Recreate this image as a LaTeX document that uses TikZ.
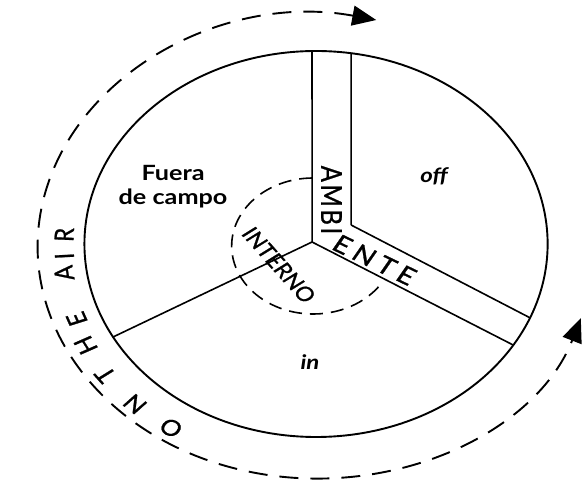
\documentclass[tikz,border=0pt]{standalone}
\usepackage{fontspec}
\setmainfont{Lato}
\newfontfamily\capsfont{Lato}[FakeBold=1]
\usetikzlibrary{arrows.meta,calc}

\tikzset{
  rim/.style={line width=1.9pt},
  spoke/.style={line width=1.6pt},
  airline/.style={line width=1.9pt, dash pattern=on 19pt off 12pt},
  inline/.style={line width=1.6pt, dash pattern=on 13pt off 8pt},
  areatext/.style={inner sep=0pt, align=center, font=\fontsize{21}{24}\selectfont\bfseries},
  striptext/.style={inner sep=0pt, font=\fontsize{24}{24}\selectfont\capsfont},
  ringtext/.style={inner sep=0pt, font=\fontsize{22}{22}\selectfont\capsfont},
}

\begin{document}
\begin{tikzpicture}[x=1pt, y=1pt, xscale=1.2, transform shape]
  \useasboundingbox (0,0) rectangle (485,481);
  \coordinate (c) at (263.3,237);
  \coordinate (co) at (263.3,234.5);
  \coordinate (ci) at (261,235);
  \coordinate (hub) at (260,239);
  \coordinate (corner) at (292.5,256);
  % points on the big circle
  \coordinate (rimL) at ($(c)+(91:193)$);
  \coordinate (rimR) at ($(c)+(81.3:193)$);
  \coordinate (rimEu) at ($(c)+(-22.5:193)$);
  \coordinate (rimEl) at ($(c)+(-31.6:193)$);
  \coordinate (rimF) at ($(c)+(208.8:193)$);

  % big circle and the three walls
  \draw[rim] (c) circle[radius=193];
  \draw[spoke] (hub) -- (rimL);
  \draw[spoke] (corner) -- (rimR);
  \draw[spoke] (corner) -- (rimEu);
  \draw[spoke] (hub) -- (rimEl);
  \draw[spoke] (hub) -- (rimF);

  % inner (interno) ring
  \draw[inline] (ci) ++(90.8:68) arc[start angle=90.8, end angle=325, radius=68];

  % on the air ring
  \draw[airline, {Triangle[length=24pt,width=20pt]}-{Triangle[length=24pt,width=20pt]}]
        (co) ++(77.5:232) arc[start angle=77.5, end angle=342, radius=232];

  % areas
  \node[areatext] (fuera) at (144.2,294) {Fuera\\de campo};
  \node[areatext, font=\fontsize{20}{24}\selectfont\bfseries\itshape] (offscreen) at (361.7,305) {off};
  \node[areatext, font=\fontsize{20}{24}\selectfont\bfseries\itshape] (inside) at (258.3,119) {in};

  % ambiente strip
  \node[striptext, rotate=-90] (ambi) at (276.25,281) {A\kern2.6pt M\kern2.6pt B\kern2.6pt I};
  \node[striptext, rotate=-30] (ente) at (312.1,221) {E\kern5pt N\kern5pt T\kern5pt E};
  \node[inner sep=0pt, font=\fontsize{20}{20}\selectfont\capsfont, rotate=-53.3] (interno) at (232.5,216) {INTERNO};

  % letters round the outside
  \foreach \ch/\ang/\rad [count=\i] in {O/236.7/220, N/226.7/220, T/216.7/219, H/207.8/217,
                                        E/200.6/213, A/187.9/212, I/183.3/210, R/177.5/210}
    \node[ringtext, rotate=\ang-90] (air-\i) at ($(c)+(\ang:\rad)$) {\ch};
\end{tikzpicture}
\end{document}
